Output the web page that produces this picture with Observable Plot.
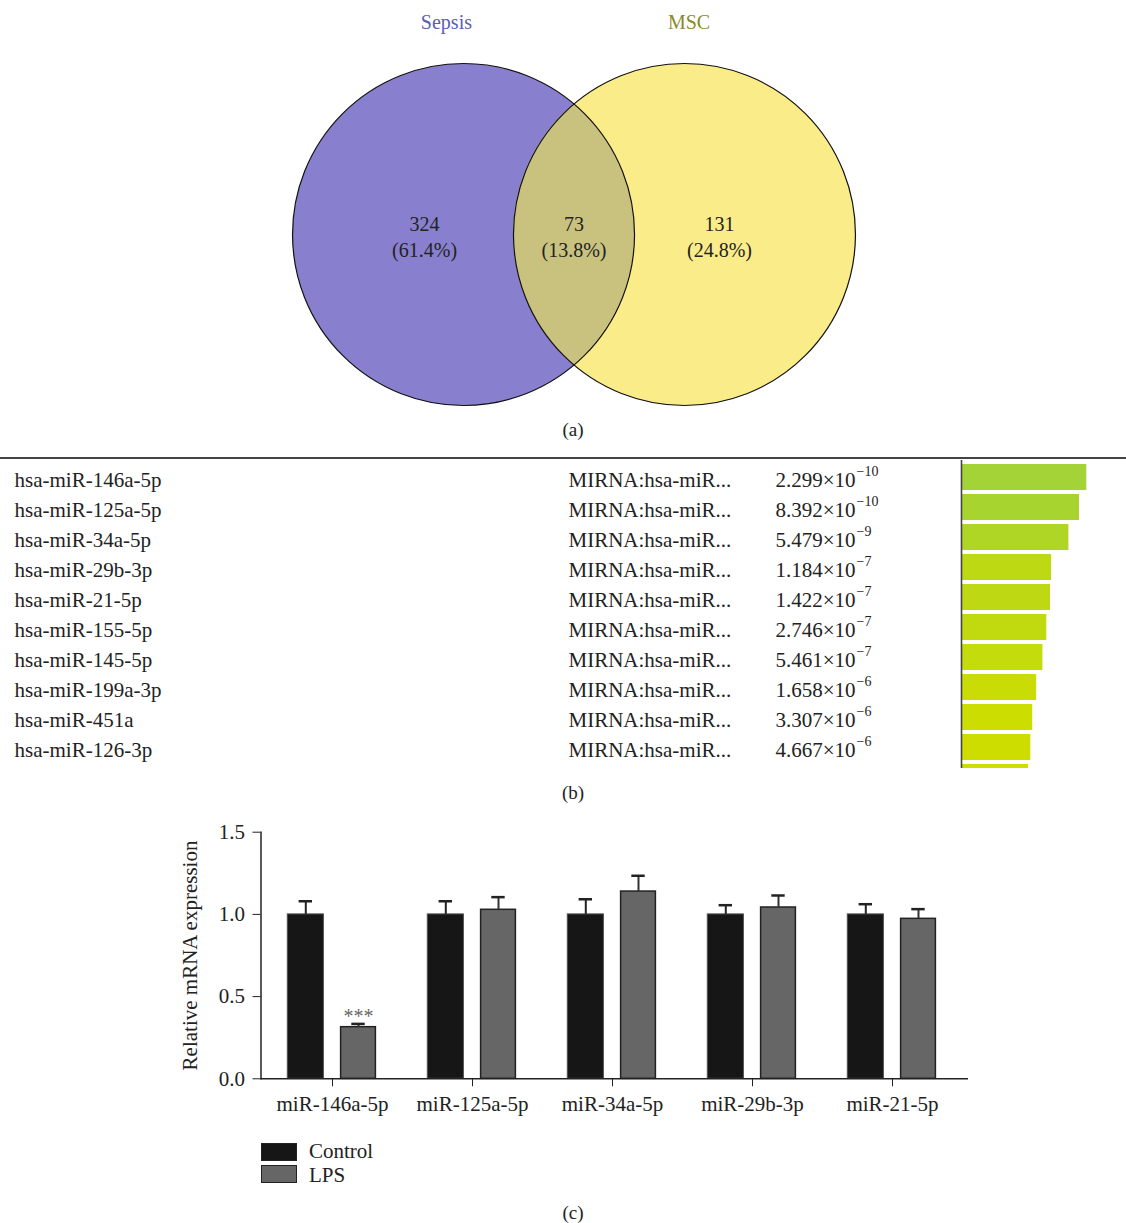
<!DOCTYPE html>
<html><head><meta charset="utf-8">
<script src="https://cdn.jsdelivr.net/npm/d3@7"></script>
<script src="https://cdn.jsdelivr.net/npm/@observablehq/plot@0.6"></script>
<style>
body{margin:0;background:#fff;font-family:"Liberation Serif",serif;color:#222}
#root{position:relative;width:1126px;height:1223px;overflow:hidden;background:#fff}
.abs{position:absolute}
.cap{position:absolute;left:10px;width:1126px;text-align:center;font-size:19px;line-height:20px;color:#222}
.leg{position:absolute;font-size:21px;line-height:22px;color:#222}
.sw{position:absolute;box-sizing:border-box}
</style></head><body><div id="root"></div>
<script>
// ---------- Panel (a): Venn ----------
const vennSets = ["Sepsis", "MSC"];
const vennSetColors = ["#5a5db8", "#8a8a2e"];
const vennRegionCounts = [324, 73, 131];
const vennRegionPercents = ["61.4%", "13.8%", "24.8%"];

// ---------- Panel (b): enrichment table ----------
const mirnaNames = ["hsa-miR-146a-5p", "hsa-miR-125a-5p", "hsa-miR-34a-5p", "hsa-miR-29b-3p", "hsa-miR-21-5p",
  "hsa-miR-155-5p", "hsa-miR-145-5p", "hsa-miR-199a-3p", "hsa-miR-451a", "hsa-miR-126-3p"];
const termNames = ["MIRNA:hsa-miR...", "MIRNA:hsa-miR...", "MIRNA:hsa-miR...", "MIRNA:hsa-miR...", "MIRNA:hsa-miR...",
  "MIRNA:hsa-miR...", "MIRNA:hsa-miR...", "MIRNA:hsa-miR...", "MIRNA:hsa-miR...", "MIRNA:hsa-miR..."];
const pMantissas = ["2.299", "8.392", "5.479", "1.184", "1.422", "2.746", "5.461", "1.658", "3.307", "4.667"];
const pExponents = [-10, -10, -9, -7, -7, -7, -7, -6, -6, -6];
const nextRowNegLogP = 5.15; // 11th bar, only its top edge is visible

// ---------- Panel (c): qPCR ----------
const genes = ["miR-146a-5p", "miR-125a-5p", "miR-34a-5p", "miR-29b-3p", "miR-21-5p"];
const controlMean = [1.0, 1.0, 1.0, 1.0, 1.0];
const controlErr = [0.08, 0.08, 0.092, 0.056, 0.062];
const lpsMean = [0.314, 1.028, 1.139, 1.042, 0.973];
const lpsErr = [0.02, 0.077, 0.096, 0.073, 0.059];
const significance = ["***", "", "", "", ""];
const groupNames = ["Control", "LPS"];
const groupFills = ["#161616", "#666666"];

const FONT = '"Liberation Serif", "Times New Roman", serif';
const root = document.getElementById("root");
function place(el, left, top) { el.style.position = "absolute"; el.style.left = left + "px"; el.style.top = top + "px"; root.appendChild(el); return el; }

// ===== Panel a =====
{
  const W = 1126, H = 445, R = 171, cx0 = 573.5, cy0 = 234; // layout
  const centers = [-0.646, 0.646]; // circle centres, in radius units
  const circles = vennSets.map((s, i) => ({set: s, cx: centers[i], cy: 0}));
  // lens (intersection) outline sampled on the two arcs
  const lens = [];
  const a1 = Math.acos(-centers[1]), a0 = Math.acos(centers[1]);
  const N = 80;
  for (let k = 0; k <= N; k++) { const a = Math.PI - (Math.PI - a1) * k / N; const h = Math.sin(a); lens.push({x: centers[1] + Math.cos(a), y1: -h, y2: h}); }
  for (let k = 1; k <= N; k++) { const a = a0 - a0 * k / N; const h = Math.sin(a); lens.push({x: centers[0] + Math.cos(a), y1: -h, y2: h}); }
  const setLabelX = [-0.746, 0.673], setLabelY = 1.24;
  const regionX = [-0.874, 0, 0.851];
  const regions = vennRegionCounts.map((c, i) => ({x: regionX[i], y: -0.006, t: `${c}\n(${vennRegionPercents[i]})`}));
  const setLabels = vennSets.map((s, i) => ({x: setLabelX[i], y: setLabelY, s, c: vennSetColors[i]}));
  const svg = Plot.plot({
    width: W, height: H, margin: 0,
    x: {domain: [-cx0 / R, (W - cx0) / R], axis: null},
    y: {domain: [-(H - cy0) / R, cy0 / R], axis: null},
    style: {fontFamily: FONT, fontSize: "20px", color: "#222", background: "transparent"},
    marks: [
      Plot.dot(circles.slice(0, 1), {x: "cx", y: "cy", r: R, fill: "#8880ce", stroke: "none"}),
      Plot.dot(circles.slice(1, 2), {x: "cx", y: "cy", r: R, fill: "#fbec8a", stroke: "none"}),
      Plot.areaY(lens, {x: "x", y1: "y1", y2: "y2", fill: "#c9c27f", curve: "linear"}),
      Plot.dot(circles, {x: "cx", y: "cy", r: R, fill: "none", stroke: "#111", strokeWidth: 1.2}),
      Plot.text(setLabels, {x: "x", y: "y", text: "s", fill: d => d.c, fontSize: 20}),
      Plot.text(regions, {x: "x", y: "y", text: "t", lineHeight: 1.3, fill: "#222", fontSize: 20})
    ]
  });
  place(svg, 0, 0);
  const c = document.createElement("div"); c.className = "cap"; c.textContent = "(a)"; c.style.top = "420px"; root.appendChild(c);
}

// ===== Panel b =====
{
  const rule = document.createElement("div");
  rule.style.cssText = "position:absolute;left:0;top:457px;width:1126px;height:1.5px;background:#444";
  root.appendChild(rule);
  const rows = mirnaNames.map((name, i) => ({
    i, name, term: termNames[i], mant: pMantissas[i] + "×10", exp: "−" + Math.abs(pExponents[i]),
    v: -Math.log10(+pMantissas[i] * Math.pow(10, pExponents[i]))
  }));
  const bars = rows.map(d => ({i: d.i, v: d.v})).concat([{i: 10, v: nextRowNegLogP}]);
  const L = 961;
  const svg = Plot.plot({
    width: 1126, height: 334, marginLeft: L, marginRight: 0, marginTop: 0, marginBottom: 0,
    x: {domain: [0, 165 / 13], axis: null},
    y: {type: "band", domain: d3.range(11), paddingInner: 0.15, paddingOuter: 0.04, axis: null},
    color: {type: "linear", domain: [5.33, 9.64], range: ["#cddd00", "#a3d336"], clamp: true},
    style: {fontFamily: FONT, fontSize: "21px", color: "#222", background: "transparent"},
    marks: [
      Plot.barX(bars, {x: "v", y: "i", fill: "v"}),
      Plot.ruleX([0], {stroke: "#444", strokeWidth: 1.6}),
      Plot.text(rows, {y: "i", text: "name", frameAnchor: "left", textAnchor: "start", dx: 14 - L, dy: 3, fill: "#222"}),
      Plot.text(rows, {y: "i", text: "term", frameAnchor: "left", textAnchor: "start", dx: 568 - L, dy: 3, fill: "#222"}),
      Plot.text(rows, {y: "i", text: "mant", frameAnchor: "left", textAnchor: "start", dx: 775 - L, dy: 3, fill: "#222"}),
      Plot.text(rows, {y: "i", text: "exp", frameAnchor: "left", textAnchor: "start", dx: 856 - L, dy: -6, fontSize: 14, fill: "#222"})
    ]
  });
  const wrap = document.createElement("div");
  wrap.style.cssText = "position:absolute;left:0;top:460px;width:1126px;height:308px;overflow:hidden";
  wrap.appendChild(svg); root.appendChild(wrap);
  const c = document.createElement("div"); c.className = "cap"; c.textContent = "(b)"; c.style.top = "783px"; root.appendChild(c);
}

// ===== Panel c =====
{
  const data = genes.map((g, i) => ({g, c: controlMean[i], ce: controlErr[i], l: lpsMean[i], le: lpsErr[i], s: significance[i]}));
  const svg = Plot.plot({
    width: 1126, height: 323, marginLeft: 260.5, marginRight: 158, marginTop: 31.7, marginBottom: 44.7,
    x: {domain: genes, range: [260.7, 963.7], padding: 0},
    y: {domain: [0, 1.5]},
    style: {fontFamily: FONT, fontSize: "21px", color: "#222", background: "transparent"},
    marks: [
      Plot.barY(data, {x: "g", y: "c", fill: groupFills[0], stroke: "#505050", strokeWidth: 1, insetLeft: 25.3, insetRight: 78.6}),
      Plot.barY(data, {x: "g", y: "l", fill: groupFills[1], stroke: "#222", strokeWidth: 1.5, insetLeft: 78.6, insetRight: 26.6}),
      Plot.ruleX(data, {x: "g", y1: "c", y2: d => d.c + d.ce, dx: -26.7, stroke: "#222", strokeWidth: 2}),
      Plot.ruleX(data, {x: "g", y1: "l", y2: d => d.l + d.le, dx: 26, stroke: "#333", strokeWidth: 2}),
      Plot.tickY(data, {x: "g", y: d => d.c + d.ce, insetLeft: 36.6, insetRight: 90, stroke: "#222", strokeWidth: 2.5}),
      Plot.tickY(data, {x: "g", y: d => d.l + d.le, insetLeft: 89.3, insetRight: 37.3, stroke: "#222", strokeWidth: 2.5}),
      Plot.text(data, {x: "g", y: d => d.l + d.le, text: "s", dx: 26, dy: -7, fill: "#666", fontSize: 20}),
      Plot.ruleY([0], {stroke: "#222", strokeWidth: 1.5}),
      Plot.frame({anchor: "left", stroke: "#222", strokeWidth: 1.5}),
      Plot.axisY({ticks: [0, 0.5, 1, 1.5], tickFormat: ".1f", tickSize: 8, tickPadding: 8, label: null, stroke: "#222"}),
      Plot.axisX({tickSize: 8, tickPadding: 9, label: null, stroke: "#222"}),
      Plot.text(["Relative mRNA expression"], {frameAnchor: "left", textAnchor: "middle", rotate: -90, dx: -70.5, fill: "#222"})
    ]
  });
  place(svg, 0, 800);
  groupNames.forEach((name, i) => {
    const sw = document.createElement("div"); sw.className = "sw";
    sw.style.cssText += `;left:261px;top:${1143 + i * 22}px;width:36px;height:18px;background:${groupFills[i]};border:1.5px solid #222`;
    root.appendChild(sw);
    const t = document.createElement("div"); t.className = "leg"; t.textContent = name;
    t.style.left = "309px"; t.style.top = (1140 + i * 24) + "px"; root.appendChild(t);
  });
  const c = document.createElement("div"); c.className = "cap"; c.textContent = "(c)"; c.style.top = "1203px"; root.appendChild(c);
}
</script></body></html>
